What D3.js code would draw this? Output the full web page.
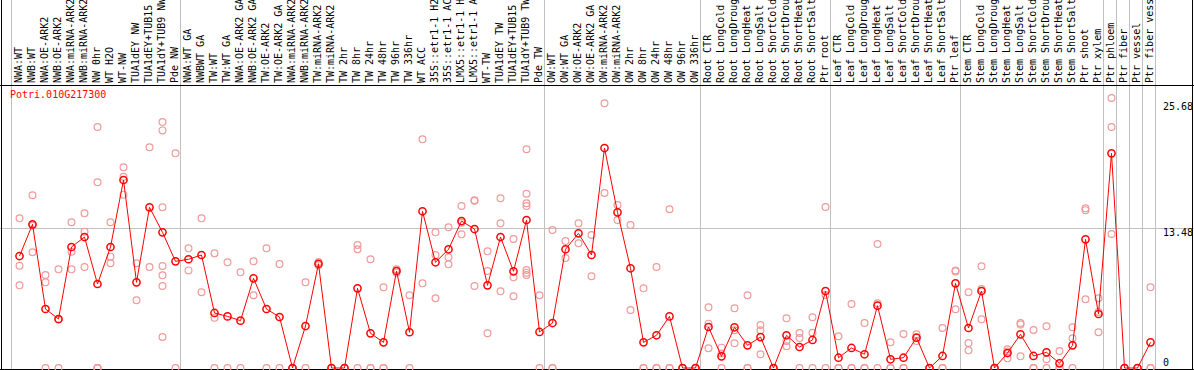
<!DOCTYPE html>
<html>
<head>
<meta charset="utf-8">
<script src="https://d3js.org/d3.v7.min.js"></script>
<style>
  body { margin: 0; background: #fff; }
  text { font-family: "DejaVu Sans Mono", monospace; font-size: 10px; }
</style>
</head>
<body>
<svg width="1194" height="370"></svg>
<script>
// sample labels, one column each
var labels = [
    "NWA:WT", "NWB:WT", "NWA:OE-ARK2", "NWB:OE-ARK2", "NWA:miRNA-ARK2", "NWB:miRNA-ARK2",
    "NW 0hr", "WT H2O", "WT-NW", "TUA1dEY NW", "TUA1dEY+TUB15", "TUA1dY+TUB9 NW", "Pde NW",
    "NWA:WT GA", "NWBWT GA", "TW:WT", "TW:WT GA", "NWA:OE-ARK2 GA", "NWB:OE-ARK2 GA",
    "TW:OE-ARK2", "TW:OE-ARK2 GA", "NWA:miRNA-ARK2", "NWB:miRNA-ARK2", "TW:miRNA-ARK2",
    "TW:miRNA-ARK2", "TW 2hr", "TW 8hr", "TW 24hr", "TW 48hr", "TW 96hr", "TW 336hr",
    "WT ACC", "35S::etr1-1 H2", "35S::etr1-1 AC", "LMX5::etr1-1 H", "LMX5::etr1-1 A",
    "WT-TW", "TUA1dEY TW", "TUA1dEY+TUB15", "TUA1dY+TUB9 TW", "Pde TW",
    "OW:WT", "OW:WT GA", "OW:OE-ARK2", "OW:OE-ARK2 GA", "OW:miRNA-ARK2", "OW:miRNA-ARK2",
    "OW 2hr", "OW 8hr", "OW 24hr", "OW 48hr", "OW 96hr", "OW 336hr",
    "Root CTR", "Root LongCold", "Root LongDroug", "Root LongHeat", "Root LongSalt",
    "Root ShortCold", "Root ShortDrou", "Root ShortHeat", "Root ShortSalt", "Ptr root",
    "Leaf CTR", "Leaf LongCold", "Leaf LongDroug", "Leaf LongHeat", "Leaf LongSalt",
    "Leaf ShortCold", "Leaf ShortDrou", "Leaf ShortHeat", "Leaf ShortSalt", "Ptr leaf",
    "Stem CTR", "Stem LongCold", "Stem LongDroug", "Stem LongHeat", "Stem LongSalt",
    "Stem ShortCold", "Stem ShortDrou", "Stem ShortHeat", "Stem ShortSalt",
    "Ptr shoot", "Ptr xylem", "Ptr phloem", "Ptr fiber", "Ptr vessel", "Ptr fiber vess"
];

// first column of each group (grey separators), plus the closing edge
var groupStarts = [0, 13, 41, 53, 63, 73, 84, 85, 86, 87, 88];

// mean expression per sample (red line)
var means = [
    10.78, 13.83, 5.68, 4.72, 11.65, 12.61, 8.09, 11.65, 18.10, 8.25, 15.47, 13.06, 10.27,
    10.47, 10.88, 5.30, 4.97, 4.56, 8.63, 5.68, 4.91, 0, 4.04, 10.04, 0, 0, 7.67, 3.34,
    2.47, 9.34, 3.44, 15.09, 10.18, 11.43, 14.15, 13.38, 7.96, 12.61, 9.31, 14.25, 3.47,
    4.33, 11.43, 12.97, 10.88, 21.18, 14.99, 9.60, 2.47, 3.15, 4.97, 0, 0,
    3.95, 1.12, 3.92, 2.18, 2.98, 0, 3.15, 2.02, 2.70, 7.41,
    0.99, 1.93, 1.32, 6.00, 0.84, 0.99, 2.92, 0, 1.16, 8.15,
    3.85, 7.41, 0, 1.44, 3.24, 1.16, 1.51, 0.45, 2.18, 12.39, 5.20, 20.67, 0, 0, 2.47
];

// individual replicates per sample (pink circles)
var replicates = [
    [14.41, 9.85, 7.96], [16.63, 11.14, 13.72], [8.95, 8.25, 0], [9.50, 4.66, 0],
    [14.03, 11.2, 9.5], [14.89, 13.13, 9.72], [23.2, 17.88, 0, 0, 0], [14.03, 10.72, 10.08],
    [19.32, 18.42, 16.69], [10.08, 6.52], [21.25, 9.72],
    [23.69, 22.88, 15.47, 9.82, 8.92, 7.90, 2.98], [20.67, 0],
    [11.52, 9.40], [14.41, 7.29], [11.04, 4.85, 0], [10.18, 0], [9.21, 0], [10.27, 7.0],
    [11.52, 0], [10.01, 0], [0, 0], [8.25, 0], [10.2, 9.9], [0, 0], [0, 0],
    [11.84, 11.43, 0], [10.47, 0, 0], [7.77, 0, 0], [9.18, 9.5], [7.0, 0],
    [22.02, 8.15], [13.06, 10.88, 6.71], [13.55, 10.66, 9.98], [15.6, 13.99, 12.87],
    [16.15, 7.9, 16.1], [11.23, 9.34, 3.34], [16.34, 13.93, 7.38], [12.42, 8.73, 6.90],
    [21.06, 16.78, 15.86, 15.6, 9.44, 9.18, 8.95], [7.0, 0],
    [13.29, 0, 0], [12.23, 10.59], [13.93, 12.0], [12.81, 8.83], [25.49, 16.85],
    [15.69, 14.25], [13.77, 5.58], [7.67, 0, 0], [9.72, 0, 0], [15.28, 0, 0], [0, 0], [0, 0],
    [5.84, 4.27, 1.89], [1.96, 1.4, 0], [5.75, 2.38, 3.63], [7.0, 0, 0], [4.14, 3.63, 1.32],
    [0, 0], [4.78, 2.09, 2.6], [3.37, 2.89, 0], [4.88, 3.40, 0], [15.5, 7.03, 0],
    [3.05, 0, 0], [6.16, 0, 0], [4.33, 0, 0], [11.94, 6.23, 0], [2.47, 0, 0], [3.27, 0, 0],
    [3.24, 2.6, 2.92], [0, 0], [3.85, 0, 0], [9.40, 9.3, 5.65],
    [7.29, 2.41, 1.70], [9.79, 7.61, 4.69], [0, 0], [1.80, 0.93, 1.6], [4.33, 4.2, 1.12],
    [3.66, 0, 0], [4.01, 0.84, 0], [1.64, 0, 0], [3.92, 2.86, 0], [15.38, 15.2, 6.61],
    [6.71, 3.44, 5.4], [26.0, 23.2, 12.9], [0, 0], [0, 0], [7.77, 0, 0]
];

var yTicks = [0, 13.48, 25.68];
var geneName = "Potri.010G217300";

var svg = d3.select("svg");
var width = +svg.attr("width");
var height = +svg.attr("height");

// x: one point per sample, 13px apart
var x = d3.scalePoint()
    .domain(d3.range(labels.length))
    .range([19.5, 19.5 + 13 * (labels.length - 1)]);

var y = d3.scaleLinear()
    .domain([0, 25.68])
    .range([368, 101.3]);

// grey group separators (full height)
svg.append("g").selectAll("line")
    .data(groupStarts)
    .enter()
    .append("line")
        .attr("x1", function(d) { return Math.round(x(0) + 13 * d - 9) + 0.5; })
        .attr("x2", function(d) { return Math.round(x(0) + 13 * d - 9) + 0.5; })
        .attr("y1", 0)
        .attr("y2", height)
        .attr("stroke", "#c0c0c0");

// middle grid line
svg.append("line")
    .attr("x1", 0).attr("x2", width)
    .attr("y1", Math.round(y(yTicks[1])) + 0.5)
    .attr("y2", Math.round(y(yTicks[1])) + 0.5)
    .attr("stroke", "#c0c0c0");

// frame
var frame = svg.append("g").attr("stroke", "#000");
frame.append("line").attr("x1", 1.5).attr("x2", 1.5).attr("y1", 0).attr("y2", height);
frame.append("line").attr("x1", width - 1.5).attr("x2", width - 1.5).attr("y1", 0).attr("y2", height);
frame.append("line").attr("x1", 0).attr("x2", width).attr("y1", 85.5).attr("y2", 85.5);
frame.append("line").attr("x1", 0).attr("x2", width).attr("y1", 369.5).attr("y2", 369.5);

// vertical sample labels
svg.append("g").selectAll("text")
    .data(labels)
    .enter()
    .append("text")
        .attr("transform", function(d, i) { return "translate(" + (x(i) + 2.5) + ",83) rotate(-90)"; })
        .attr("fill", "#000")
        .text(function(d) { return d; });

// right-hand value labels
svg.append("g").selectAll("text")
    .data(yTicks)
    .enter()
    .append("text")
        .attr("x", 1163)
        .attr("y", function(d) { return Math.min(y(d) + 8.3, 365.5); })
        .attr("fill", "#000")
        .text(function(d) { return d === 0 ? "0" : d.toFixed(2); });

svg.append("text")
    .attr("x", 10)
    .attr("y", 98)
    .attr("fill", "#ff0000")
    .text(geneName);

// replicate points
var reps = [];
replicates.forEach(function(r, i) {
    r.forEach(function(v) { reps.push({i: i, v: v}); });
});

svg.append("g").selectAll("circle")
    .data(reps)
    .enter()
    .append("circle")
        .attr("cx", function(d) { return x(d.i); })
        .attr("cy", function(d) { return y(d.v); })
        .attr("r", 3.4)
        .attr("fill", "none")
        .attr("stroke", "#f09a9a")
        .attr("stroke-width", 1.2);

// mean line
var line = d3.line()
    .x(function(d, i) { return x(i); })
    .y(function(d) { return y(d); });

svg.append("path")
    .datum(means)
    .attr("d", line)
    .attr("fill", "none")
    .attr("stroke", "#ff0000")
    .attr("stroke-width", 1);

svg.append("g").selectAll("circle")
    .data(means)
    .enter()
    .append("circle")
        .attr("cx", function(d, i) { return x(i); })
        .attr("cy", function(d) { return y(d); })
        .attr("r", 3.6)
        .attr("fill", "none")
        .attr("stroke", "#ff0000")
        .attr("stroke-width", 1.5);
</script>
</body>
</html>
